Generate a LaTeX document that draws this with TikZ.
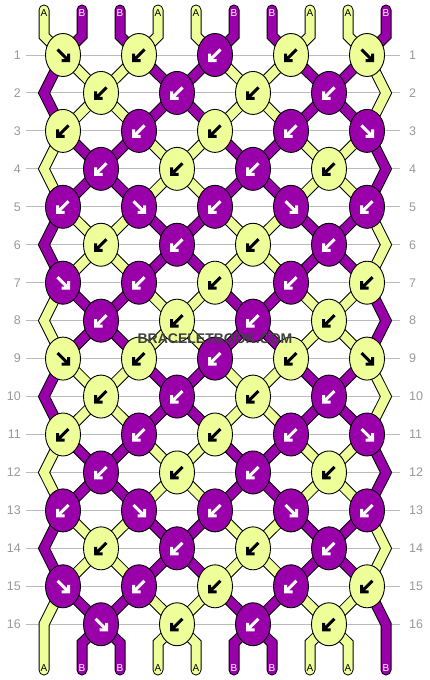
\documentclass[tikz,border=0pt]{standalone}
\usepackage{fontspec}
\setmainfont{Liberation Sans}
\usetikzlibrary{shapes.geometric}
\definecolor{yel}{HTML}{EEFF99}
\definecolor{pur}{HTML}{9900AA}
\definecolor{gridc}{HTML}{BBBBBB}
\definecolor{numc}{HTML}{999999}
\pgfdeclarelayer{bg}
\pgfdeclarelayer{str}
\pgfsetlayers{bg,str,main}
\begin{document}
\begin{tikzpicture}[x=1pt,y=-1pt,
  knotbase/.style={ellipse, draw=black, line width=0.9pt, minimum width=35pt, minimum height=43pt, inner sep=0pt},
  knotY/.style={knotbase, fill=yel},
  knotP/.style={knotbase, fill=pur},
  strandbase/.style={draw=black, line width=1pt, double distance=9pt, line cap=round, line join=miter},
  strand0/.style={strandbase, double=yel},
  strand1/.style={strandbase, double=pur},
  arrcolY/.style={color=black},
  arrcolP/.style={color=white},
  lab0/.style={text=black, font=\fontsize{10}{10}\selectfont, inner sep=0pt},
  lab1/.style={text=white, font=\fontsize{10}{10}\selectfont, inner sep=0pt},
  numL/.style={anchor=east, text=numc, font=\fontsize{12.5}{12.5}\selectfont, inner sep=0pt},
  numR/.style={anchor=west, text=numc, font=\fontsize{12.5}{12.5}\selectfont, inner sep=0pt},
  gridline/.style={draw=gridc, line width=1pt},
  pics/arrR/.style={code={\draw[line width=3pt, line cap=butt, line join=miter] (-5.5,-5.5) -- (5,5) (-1.5,5.5) -- (5.5,5.5) -- (5.5,-1.5);}},
  pics/arrL/.style={code={\draw[line width=3pt, line cap=butt, line join=miter] (5.5,-5.5) -- (-5,5) (1.5,5.5) -- (-5.5,5.5) -- (-5.5,-1.5);}},
  wmark/.style={font=\bfseries\fontsize{14}{14}\selectfont, text=black!75, inner sep=0pt}
]
\useasboundingbox (0,0) rectangle (430,680);
\begin{pgfonlayer}{bg}
\fill[white] (0,0) rectangle (430,680);
\end{pgfonlayer}

% knots
\foreach \r/\specs in {
 1/{Y/R,Y/L,P/L,Y/L,Y/R},
 2/{Y/L,P/L,Y/L,P/L},
 3/{Y/L,P/L,Y/L,P/L,P/R},
 4/{P/L,Y/L,P/L,Y/L},
 5/{P/L,P/R,P/L,P/R,P/L},
 6/{Y/L,P/L,Y/L,P/L},
 7/{P/R,P/L,Y/L,P/L,Y/L},
 8/{P/L,Y/L,P/L,Y/L},
 9/{Y/R,Y/L,P/L,Y/L,Y/R},
 10/{Y/L,P/L,Y/L,P/L},
 11/{Y/L,P/L,Y/L,P/L,P/R},
 12/{P/L,Y/L,P/L,Y/L},
 13/{P/L,P/R,P/L,P/R,P/L},
 14/{Y/L,P/L,Y/L,P/L},
 15/{P/R,P/L,Y/L,P/L,Y/L},
 16/{P/R,Y/L,P/L,Y/L}}{
  \pgfmathsetmacro\yy{55+37.95*(\r-1)}
  \pgfmathtruncatemacro\odd{mod(\r,2)}
  \foreach \cc/\dd [count=\c] in \specs {
    \pgfmathsetmacro\xx{63+38*(1-\odd)+76*(\c-1)}
    \node[knot\cc] (k\r-\c) at (\xx,\yy) {};
    \pic[arrcol\cc] at (k\r-\c.center) {arr\dd};
  }
  % grid line and row numbers
  \begin{pgfonlayer}{bg}
    \coordinate (gl\r) at (26,\yy);
    \coordinate (gr\r) at (400,\yy);
    \draw[gridline] (gl\r) -- (gr\r);
    \node[numL] (nl\r) at (21,\yy) {\r};
    \node[numR] (nr\r) at (409,\yy) {\r};
  \end{pgfonlayer}
}

% edge bend coordinates
\foreach \r in {2,4,...,16} {
  \pgfmathsetmacro\yy{55+37.95*(\r-1)}
  \coordinate (L\r) at (44,\yy);
  \coordinate (R\r) at (386,\yy);
}

\begin{pgfonlayer}{str}
% diagonal connectors between rows
\foreach \r in {1,...,15} {
  \pgfmathtruncatemacro\rn{\r+1}
  \pgfmathtruncatemacro\odd{mod(\r,2)}
  \foreach \p in {2,...,9} {
    \pgfmathtruncatemacro\s{mod(floor((\r+1)/2)+floor(\p/2),2)}
    \pgfmathtruncatemacro\a{\odd==1 ? ceil(\p/2) : floor(\p/2)}
    \pgfmathtruncatemacro\b{\odd==1 ? floor(\p/2) : ceil(\p/2)}
    \draw[strand\s] (k\r-\a.center) -- (k\rn-\b.center);
  }
}
% edge connectors
\foreach \r in {1,3,...,13} {
  \pgfmathtruncatemacro\rn{\r+1}
  \pgfmathtruncatemacro\rm{\r+2}
  \pgfmathtruncatemacro\sl{mod(floor((\r+1)/2),2)}
  \pgfmathtruncatemacro\sr{1-\sl}
  \draw[strand\sl] (k\r-1.center) -- (L\rn) -- (k\rm-1.center);
  \draw[strand\sr] (k\r-5.center) -- (R\rn) -- (k\rm-5.center);
}
% top strings
\foreach \p in {1,...,10} {
  \pgfmathsetmacro\xp{44+38*(\p-1)}
  \pgfmathtruncatemacro\s{mod(floor(\p/2),2)}
  \pgfmathtruncatemacro\c{ceil(\p/2)}
  \coordinate (T\p) at (\xp,10);
  \coordinate (TB\p) at (\xp,36);
  \coordinate (B\p) at (\xp,670);
  \coordinate (BB\p) at (\xp,643);
  \draw[strand\s] (T\p) -- (TB\p) -- (k1-\c.center);
}
% bottom strings
\foreach \p in {2,...,9} {
  \pgfmathtruncatemacro\s{mod(floor(\p/2),2)}
  \pgfmathtruncatemacro\c{floor(\p/2)}
  \draw[strand\s] (k16-\c.center) -- (BB\p) -- (B\p);
}
\draw[strand0] (k15-1.center) -- (L16) -- (B1);
\draw[strand1] (k15-5.center) -- (R16) -- (B10);
\end{pgfonlayer}

% A/B labels
\foreach \p in {1,...,10} {
  \pgfmathsetmacro\xp{44+38*(\p-1)}
  \pgfmathtruncatemacro\s{mod(floor(\p/2),2)}
  \ifnum\s=0
    \node[lab0] (tl\p) at (\xp,13) {A};
    \node[lab0] (bl\p) at (\xp,668) {A};
  \else
    \node[lab1] (tl\p) at (\xp,13) {B};
    \node[lab1] (bl\p) at (\xp,668) {B};
  \fi
}

\node[wmark] (wm) at (215,339) {BRACELETBOOK.COM};
\end{tikzpicture}
\end{document}
